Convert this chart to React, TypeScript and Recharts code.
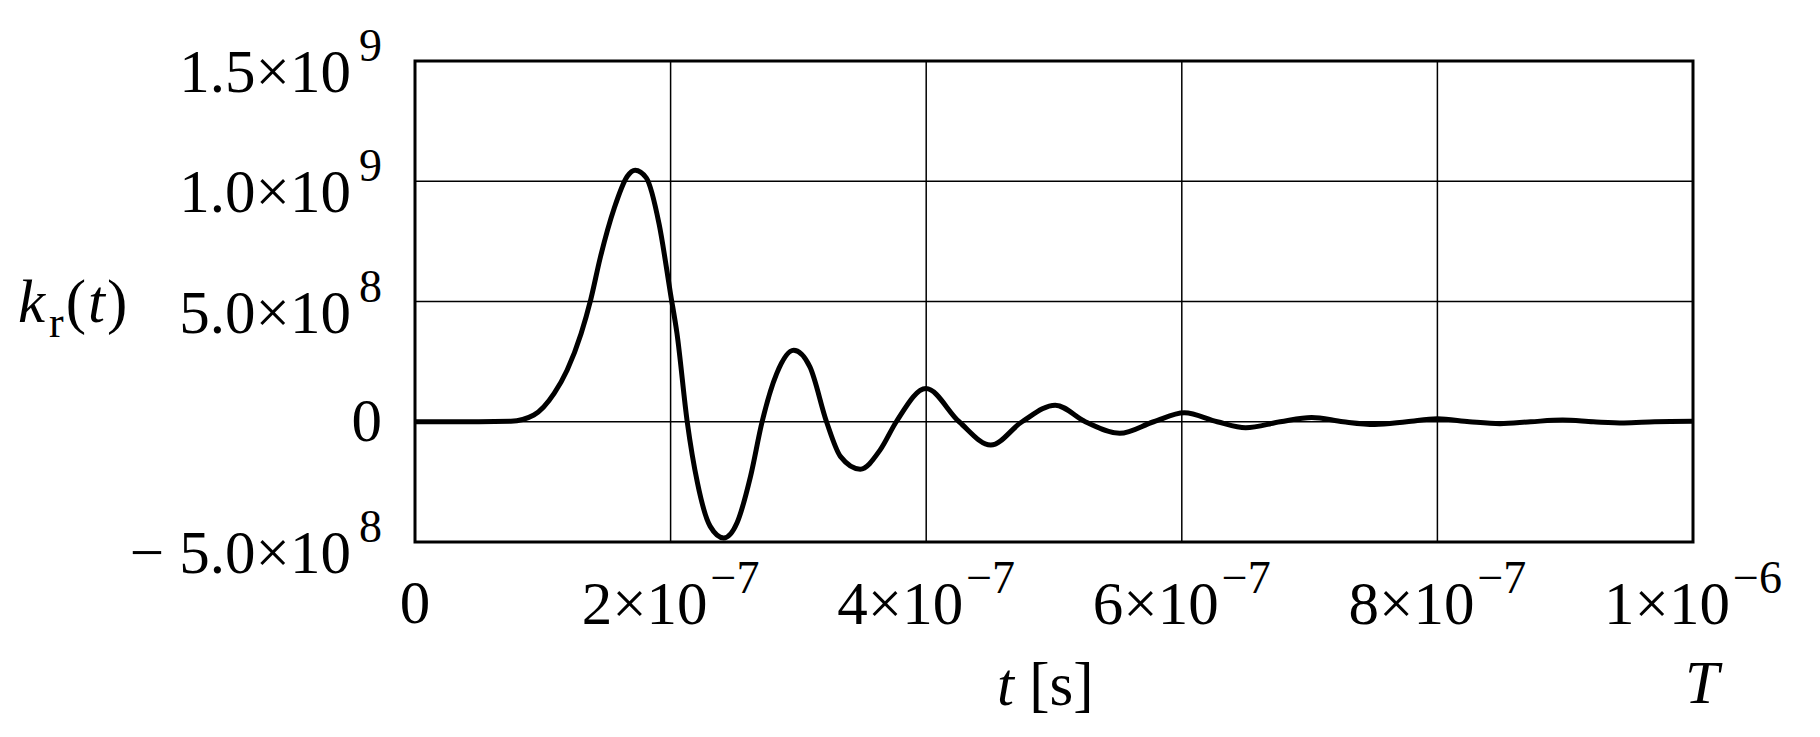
import React from 'react';
import { LineChart, Line, XAxis, YAxis, CartesianGrid, ReferenceArea } from 'recharts';

// time in units of 1e-7 s, response in units of 1e8
const TIME = [
  0, 0.5, 0.75, 0.93, 1.09, 1.19, 1.3, 1.375, 1.45, 1.56, 1.66, 1.723, 1.81, 1.91, 2.0, 2.05, 2.13,
  2.21, 2.31, 2.416, 2.52, 2.625, 2.716, 2.83, 2.963, 3.09, 3.22, 3.33, 3.484, 3.64, 3.766, 3.998,
  4.258, 4.505, 4.75, 5.01, 5.245, 5.514, 5.78, 6.02, 6.277, 6.5, 6.77, 7.016, 7.263, 7.51, 7.76,
  8.0, 8.25, 8.49, 8.73, 8.98, 9.22, 9.46, 9.7, 10,
];
const KR = [
  0, 0, 0.02, 0.28, 1.19, 2.14, 3.67, 5.08, 6.83, 8.9, 10.2, 10.46, 10.14, 8.22, 5.3, 3.67, 0,
  -2.54, -4.35, -4.83, -4.2, -2.28, 0, 2.0, 2.97, 2.28, 0, -1.45, -1.97, -1.17, 0, 1.38,
  0, -0.97, 0, 0.69, 0, -0.48, 0, 0.37, 0, -0.25, 0, 0.18, 0, -0.11, 0,
  0.12, 0, -0.08, 0, 0.07, 0, -0.05, 0, 0.02,
];

const X_TICKS = [0, 2e-7, 4e-7, 6e-7, 8e-7, 1e-6];
const Y_TICKS = [-5e8, 0, 5e8, 1e9, 1.5e9];

const data = TIME.map((t, i) => ({ t: t * 1e-7, kr: KR[i] * 1e8 }));

const FONT = '"Liberation Serif", "Times New Roman", serif';
const BIG = 61;
const SUP = 46;

const splitSci = (v: number, digits: number) => {
  if (v === 0) return null;
  const exp = Math.floor(Math.log10(Math.abs(v)) + 1e-9);
  const mant = v / Math.pow(10, exp);
  const m = Math.abs(mant).toFixed(digits);
  return { mant: (mant < 0 ? '\u2212 ' : '') + m, exp: String(exp).replace('-', '\u2212') };
};

const YTick = (props: any) => {
  const { y, payload } = props;
  const s = splitSci(payload.value, 1);
  if (!s) {
    return (
      <text x={382} y={y + 19} textAnchor="end" fontFamily={FONT} fontSize={BIG} fill="#000">0</text>
    );
  }
  return (
    <text x={382} y={y + 31} textAnchor="end" fontFamily={FONT} fontSize={BIG} fill="#000">
      <tspan>{s.mant}{'\u00d7'}10</tspan>
      <tspan dx={8} dy={-31} fontSize={SUP}>{s.exp}</tspan>
    </text>
  );
};

const XTick = (props: any) => {
  const { x, payload } = props;
  const s = splitSci(payload.value, 0);
  if (!s) {
    return (
      <text x={x} y={623} textAnchor="middle" fontFamily={FONT} fontSize={BIG} fill="#000">0</text>
    );
  }
  return (
    <text x={x} y={624} textAnchor="middle" fontFamily={FONT} fontSize={BIG} fill="#000">
      <tspan>{s.mant}{'\u00d7'}10</tspan>
      <tspan dx={3} dy={-31} fontSize={SUP}>{s.exp}</tspan>
    </text>
  );
};

export default function App() {
  return (
    <div style={{ position: 'absolute', left: 0, top: 0, width: 1820, height: 737, background: '#fff' }}>
      <LineChart width={1820} height={737} data={data} margin={{ top: 61, right: 127, bottom: 0, left: 0 }}>
        <CartesianGrid stroke="#000" strokeWidth={1.5} />
        <XAxis
          dataKey="t"
          type="number"
          domain={[0, 1e-6]}
          ticks={X_TICKS}
          height={195}
          axisLine={false}
          tickLine={false}
          tick={<XTick />}
          interval={0}
        />
        <YAxis
          type="number"
          domain={[-5e8, 1.5e9]}
          ticks={Y_TICKS}
          width={415}
          axisLine={false}
          tickLine={false}
          tick={<YTick />}
          interval={0}
        />
        <ReferenceArea x1={0} x2={1e-6} y1={-5e8} y2={1.5e9} fill="none" stroke="#000" strokeWidth={3} fillOpacity={0} />
        <Line
          type="monotone"
          dataKey="kr"
          stroke="#000"
          strokeWidth={5}
          dot={false}
          isAnimationActive={false}
        />
      </LineChart>
      <svg width={1820} height={737} style={{ position: 'absolute', left: 0, top: 0, pointerEvents: 'none' }}>
        <text x={18} y={322} fontFamily={FONT} fontSize={BIG} fill="#000">
          <tspan fontStyle="italic">k</tspan>
          <tspan dx={4} dy={15} fontSize={44}>r</tspan>
          <tspan dx={2} dy={-15}>(</tspan>
          <tspan fontStyle="italic" dx={2}>t</tspan>
          <tspan dx={2}>)</tspan>
        </text>
        <text x={997} y={705} fontFamily={FONT} fontSize={BIG} fill="#000">
          <tspan fontStyle="italic">t</tspan>
          <tspan> [s]</tspan>
        </text>
        <text x={1702} y={703} textAnchor="middle" fontFamily={FONT} fontSize={BIG} fontStyle="italic" fill="#000">T</text>
      </svg>
    </div>
  );
}
